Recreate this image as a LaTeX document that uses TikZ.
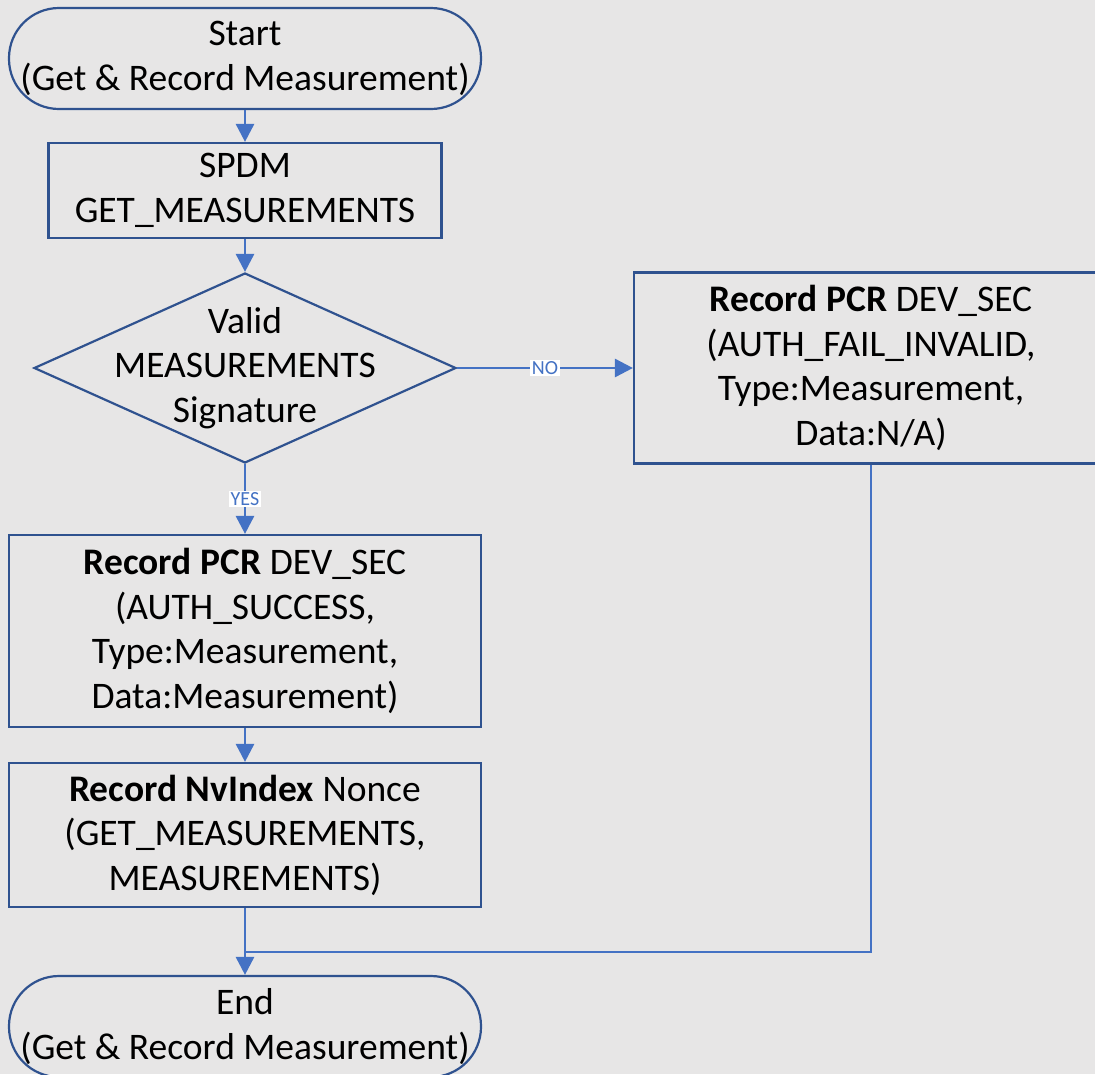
\documentclass[tikz,border=0pt]{standalone}
\usepackage{fontspec}
\setmainfont{Carlito}
\usetikzlibrary{arrows.meta,shapes.geometric}
\definecolor{pagegray}{HTML}{E7E6E6}
\definecolor{shapeblue}{HTML}{2F528F}
\definecolor{flowblue}{HTML}{4472C4}
\tikzset{
	terminal/.style = {draw=shapeblue, line width=2.2pt, rounded corners=50pt, minimum width=472pt, minimum height=101pt, inner sep=0pt, align=center},
	process/.style = {draw=shapeblue, line width=2.2pt, minimum width=472pt, inner sep=0pt, align=center},
	decision/.style = {draw=shapeblue, line width=2.2pt, diamond, minimum width=422pt, minimum height=190pt, inner sep=0pt},
	flow/.style = {draw=flowblue, line width=2.8pt, -{Triangle[length=18pt,width=18pt]}},
	tag/.style = {fill=white, text=flowblue, font=\fontsize{20}{24}\selectfont, inner sep=1.5pt}
}

\begin{document}
\begin{tikzpicture}[x=1pt, y=-1pt, font=\fontsize{37.5}{44.5}\selectfont]
	\fill[pagegray] (0,0) rectangle (1095,1074);
	\useasboundingbox (0,0) rectangle (1095,1074);
	\clip (0,0) rectangle (1095,1074);
	
	\node[terminal] (start) at (245,58.5) {Start\\(Get \& Record Measurement)};
	\node[process, minimum width=393pt, minimum height=95pt] (spdm) at (245,190.5) {SPDM\\GET\_MEASUREMENTS};
	\node[decision] (valid) at (245,368) {};
	\node[align=center] (validtext) at (valid) {Valid\\MEASUREMENTS\\Signature};
	\node[process, minimum width=474pt, minimum height=191pt] (failrec) at (871,368) {\textbf{Record PCR} DEV\_SEC\\(AUTH\_FAIL\_INVALID,\\Type:Measurement,\\Data:N/A)};
	\node[process, minimum height=192pt] (okrec) at (245,631) {\textbf{Record PCR} DEV\_SEC\\(AUTH\_SUCCESS,\\Type:Measurement,\\Data:Measurement)};
	\node[process, minimum height=144pt] (nonce) at (245,835) {\textbf{Record NvIndex} Nonce\\(GET\_MEASUREMENTS,\\MEASUREMENTS)};
	\node[terminal] (stop) at (245,1026.5) {End\\(Get \& Record Measurement)};
	\coordinate (merge) at (245,952);
	
	\draw[flow] (start) -- (spdm);
	\draw[flow] (spdm) -- (valid);
	\draw[flow] (valid) -- node[tag] (no) {NO} (failrec);
	\draw[flow] (valid) -- node[tag] (yes) {YES} (okrec);
	\draw[flow] (okrec) -- (nonce);
	\draw[flow] (nonce) -- (stop);
	%\draw[flow] (merge) -- (stop);
	\draw[flow, -] (failrec) |- (merge);
\end{tikzpicture}
\end{document}
